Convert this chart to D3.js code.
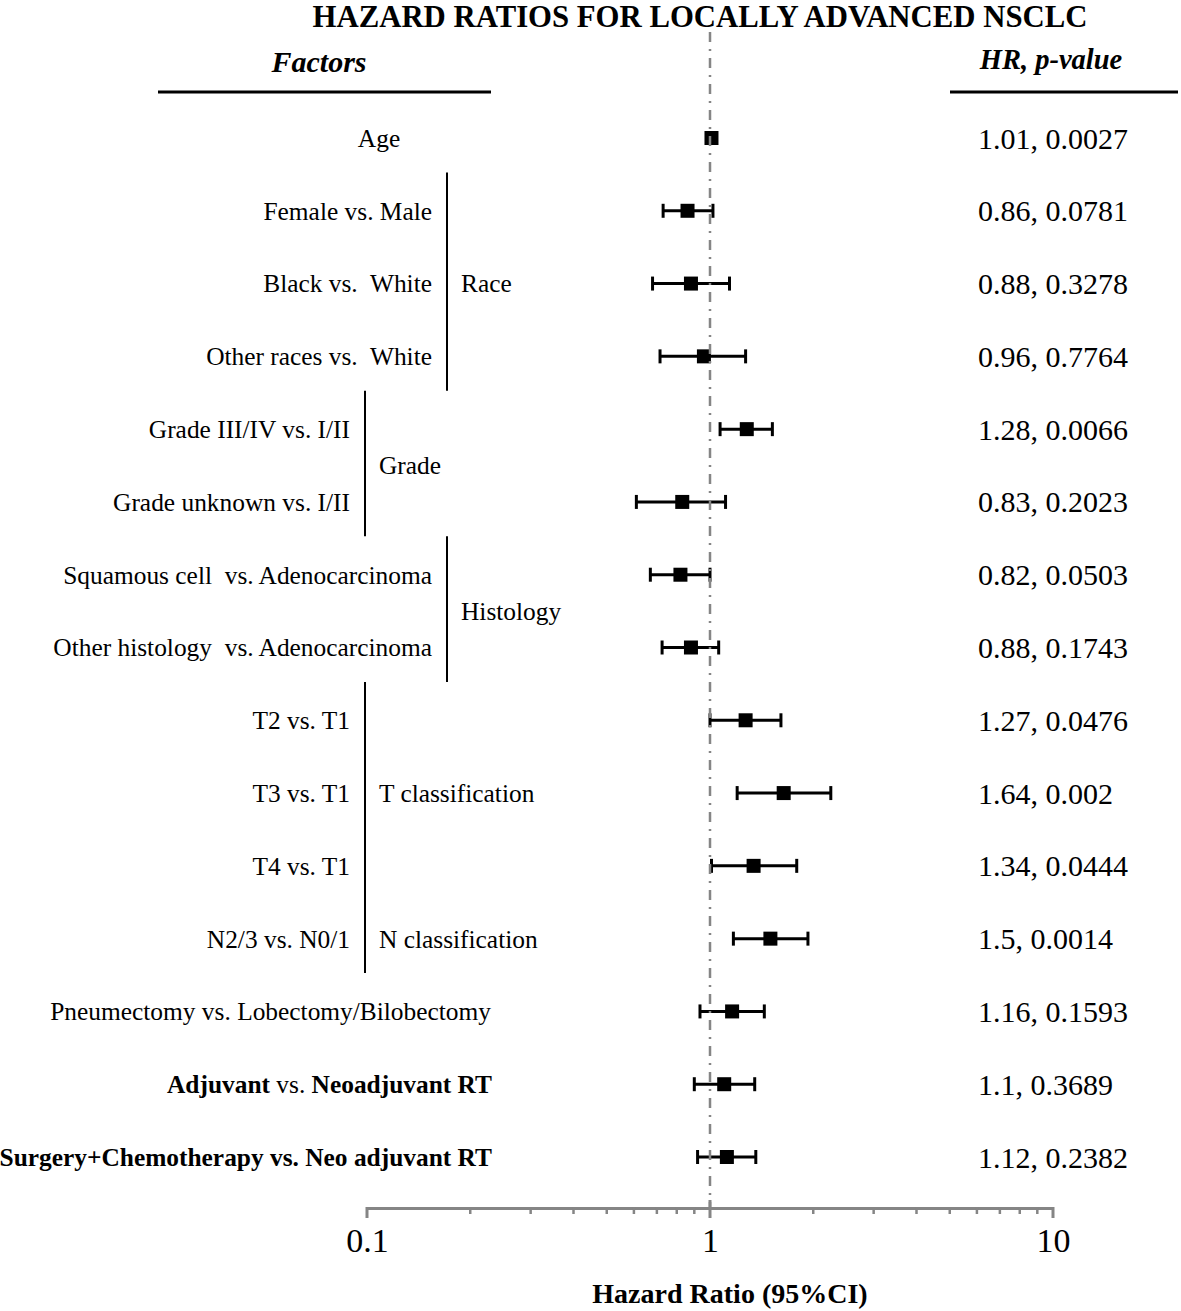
<!DOCTYPE html>
<html>
<head>
<meta charset="utf-8">
<script src="https://cdn.jsdelivr.net/npm/d3@7"></script>
<style>
  html, body { margin: 0; padding: 0; background: #fff; }
  svg { display: block; font-family: "Liberation Serif", "DejaVu Serif", serif; }
</style>
</head>
<body>
<svg id="chart" width="1181" height="1311"></svg>
<script>
// ---------- Data ----------
const factors = [
  "Age",
  "Female vs. Male",
  "Black vs.  White",
  "Other races vs.  White",
  "Grade III/IV vs. I/II",
  "Grade unknown vs. I/II",
  "Squamous cell  vs. Adenocarcinoma",
  "Other histology  vs. Adenocarcinoma",
  "T2 vs. T1",
  "T3 vs. T1",
  "T4 vs. T1",
  "N2/3 vs. N0/1",
  "Pneumectomy vs. Lobectomy/Bilobectomy",
  "Adjuvant vs. Neoadjuvant RT",
  "Surgery+Chemotherapy vs. Neo adjuvant RT"
];
const hrValues = [1.01, 0.86, 0.88, 0.96, 1.28, 0.83, 0.82, 0.88, 1.27, 1.64, 1.34, 1.5, 1.16, 1.1, 1.12];
const ciLower  = [1.00, 0.73, 0.68, 0.715, 1.07, 0.61, 0.67, 0.725, 1.00, 1.20, 1.01, 1.17, 0.935, 0.90, 0.92];
const ciUpper  = [1.02, 1.02, 1.14, 1.27, 1.52, 1.11, 1.00, 1.06, 1.61, 2.25, 1.79, 1.93, 1.44, 1.35, 1.36];
const hrLabels = ["1.01", "0.86", "0.88", "0.96", "1.28", "0.83", "0.82", "0.88", "1.27", "1.64", "1.34", "1.5", "1.16", "1.1", "1.12"];
const pValues  = ["0.0027", "0.0781", "0.3278", "0.7764", "0.0066", "0.2023", "0.0503", "0.1743", "0.0476", "0.002", "0.0444", "0.0014", "0.1593", "0.3689", "0.2382"];
const groupNames = ["Race", "Grade", "Histology", "T classification", "N classification"];
const groupFirst = [1, 4, 6, 8, 11];
const groupLast  = [3, 5, 7, 10, 11];
const tickValues = [0.1, 1, 10];
const tickLabels = ["0.1", "1", "10"];
const title = "HAZARD RATIOS FOR LOCALLY ADVANCED NSCLC";
const xTitle = "Hazard Ratio (95%CI)";

// ---------- Layout ----------
const svg = d3.select("#chart");
const x = d3.scaleLog().domain([0.1, 10]).range([367, 1053]);
const y = d3.scalePoint().domain(d3.range(factors.length)).range([138, 1157]);
const axisY = 1208;
const black = "#000";
const grey = "#858585";

// title: fit to the reference width
const tt = svg.append("text").attr("x", 700).attr("y", 27)
  .attr("text-anchor", "middle").attr("font-weight", "bold").attr("font-size", 26)
  .text(title);
const tw = tt.node().getComputedTextLength();
tt.attr("font-size", 26 * 775 / tw);

// column headers
svg.append("text").attr("x", 319).attr("y", 72).attr("text-anchor", "middle")
  .attr("font-weight", "bold").attr("font-style", "italic").attr("font-size", 30).text("Factors");
svg.append("line").attr("x1", 158).attr("x2", 491).attr("y1", 92).attr("y2", 92)
  .attr("stroke", black).attr("stroke-width", 3);
svg.append("text").attr("x", 1051).attr("y", 69).attr("text-anchor", "middle")
  .attr("font-weight", "bold").attr("font-style", "italic").attr("font-size", 28.5).text("HR, p-value");
svg.append("line").attr("x1", 950).attr("x2", 1178).attr("y1", 92).attr("y2", 92)
  .attr("stroke", black).attr("stroke-width", 3);

// axis
const axis = d3.axisBottom(x).tickValues(tickValues).tickFormat((d, i) => tickLabels[i]).tickSize(0).tickPadding(0);
const gAxis = svg.append("g").attr("transform", `translate(0,${axisY})`).call(axis);
gAxis.attr("font-family", null).attr("font-size", null);
gAxis.select(".domain").attr("stroke", grey).attr("stroke-width", 3);
gAxis.selectAll(".tick text").attr("font-size", 34).attr("font-family", "Liberation Serif")
  .attr("fill", black).attr("dy", 0).attr("y", 44);
// major & minor ticks
const minor = [];
for (let e = -1; e < 1; e++) for (let k = 2; k <= 9; k++) minor.push(k * Math.pow(10, e));
gAxis.selectAll(".minor").data(minor).join("line").attr("class", "minor")
  .attr("x1", d => x(d)).attr("x2", d => x(d)).attr("y1", -1).attr("y2", 6)
  .attr("stroke", grey).attr("stroke-width", 2.5);
gAxis.selectAll(".major").data(tickValues).join("line").attr("class", "major")
  .attr("x1", d => x(d)).attr("x2", d => x(d)).attr("y1", d => d === 1 ? -8 : -1).attr("y2", 10)
  .attr("stroke", grey).attr("stroke-width", 3);

svg.append("text").attr("x", 730).attr("y", 1303).attr("text-anchor", "middle")
  .attr("font-weight", "bold").attr("font-size", 28).text(xTitle);

// ---------- Row labels ----------
const lineXs = [447, 365, 447, 365, 365];
const labelRight = {};
groupNames.forEach((g, gi) => {
  for (let r = groupFirst[gi]; r <= groupLast[gi]; r++) labelRight[r] = lineXs[gi] - 15;
});
const labels = svg.append("g").attr("font-size", 25.4).attr("fill", black);
factors.forEach((f, i) => {
  const t = labels.append("text").attr("y", y(i)).attr("dy", "0.35em").style("white-space", "pre");
  if (i === 0) {
    t.attr("x", 379).attr("text-anchor", "middle").text(f);
  } else if (i === 12) {
    t.attr("x", 491).attr("text-anchor", "end").text(f);
  } else if (i === 13) {
    t.attr("x", 492).attr("text-anchor", "end");
    t.append("tspan").attr("font-weight", "bold").text("Adjuvant");
    t.append("tspan").text(" vs. ");
    t.append("tspan").attr("font-weight", "bold").text("Neoadjuvant RT");
  } else if (i === 14) {
    t.attr("x", 492).attr("text-anchor", "end").attr("font-weight", "bold").text(f);
  } else {
    t.attr("x", labelRight[i]).attr("text-anchor", "end").text(f);
  }
});

// group brackets (T and N share one line)
const half = (y(1) - y(0)) / 2;
const bracketSpans = [[1, 3, 447], [4, 5, 365], [6, 7, 447], [8, 11, 365]];
bracketSpans.forEach(([a, b, lx]) => {
  svg.append("line").attr("x1", lx).attr("x2", lx)
    .attr("y1", y(a) - half - 2).attr("y2", y(b) + half - 2)
    .attr("stroke", black).attr("stroke-width", 2);
});
groupNames.forEach((g, gi) => {
  const yc = (y(groupFirst[gi]) + y(groupLast[gi])) / 2;
  const yy = gi === 3 ? y(9) : yc;
  labels.append("text").attr("x", lineXs[gi] + 14).attr("y", yy).attr("dy", "0.35em").text(g);
});

// ---------- Marks ----------
const marks = svg.append("g");
hrValues.forEach((v, i) => {
  const yy = y(i);
  marks.append("line").attr("x1", x(ciLower[i])).attr("x2", x(ciUpper[i]))
    .attr("y1", yy).attr("y2", yy).attr("stroke", black).attr("stroke-width", 3);
  [ciLower[i], ciUpper[i]].forEach(c => {
    marks.append("line").attr("x1", x(c)).attr("x2", x(c)).attr("y1", yy - 7).attr("y2", yy + 7)
      .attr("stroke", black).attr("stroke-width", 3);
  });
  marks.append("rect").attr("x", x(v) - 7).attr("y", yy - 7).attr("width", 14).attr("height", 14)
    .attr("fill", black);
});

// reference line at HR = 1 (drawn over the marks, as in the original)
svg.append("line").attr("x1", x(1)).attr("x2", x(1)).attr("y1", 32).attr("y2", axisY)
  .attr("stroke", grey).attr("stroke-width", 2.5).attr("stroke-dasharray", "10,7,2,7");

// ---------- Right column ----------
const right = svg.append("g").attr("font-size", 30).attr("fill", black);
hrLabels.forEach((h, i) => {
  right.append("text").attr("x", 978).attr("y", y(i)).attr("dy", "0.35em").text(h + ", " + pValues[i]);
});
</script>
</body>
</html>
